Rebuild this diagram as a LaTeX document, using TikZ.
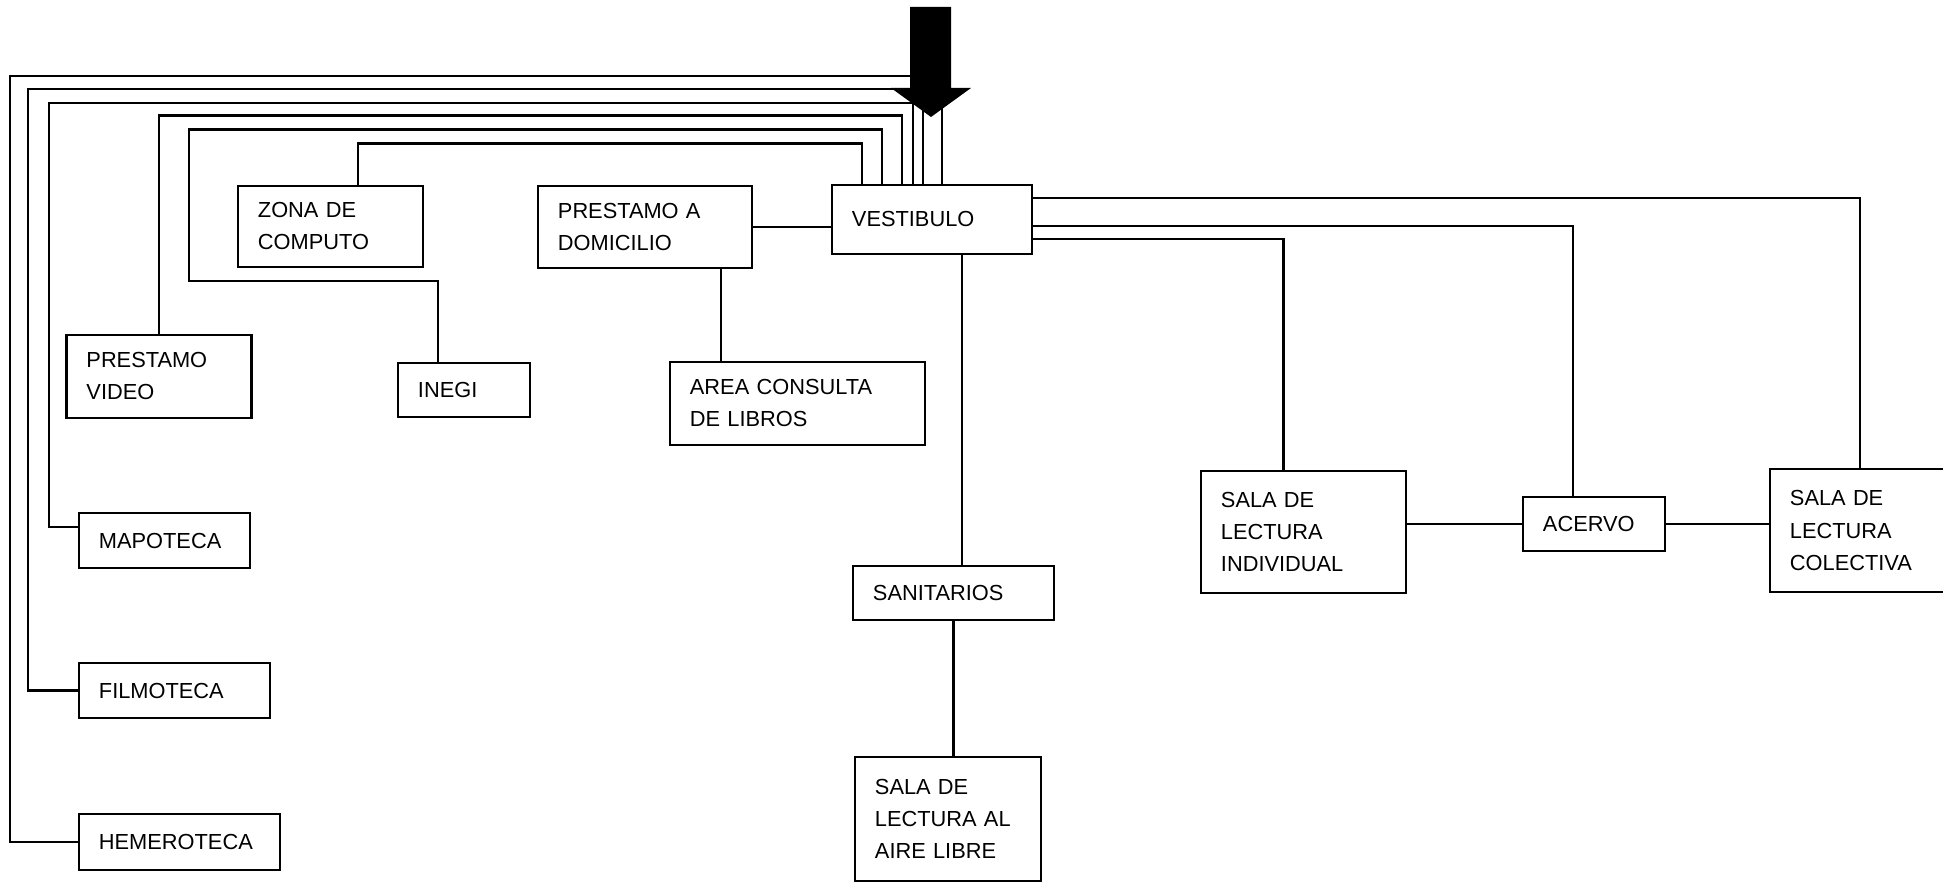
\documentclass[tikz,border=0pt]{standalone}
\usepackage{fontspec}
\setmainfont{Liberation Sans}
\usepackage{tikz}

\tikzset{
  room/.style={draw, line width=0.8pt, align=left, inner xsep=0.2cm, inner ysep=0pt,
    font=\fontsize{6.2}{9.1}\selectfont},
  link/.style={line width=0.8pt}
}

\begin{document}
\begin{tikzpicture}[x=0.01cm, y=-0.01cm]
  \useasboundingbox (0,0) rectangle (1943,883);

  \node[room, text width=1.6cm,  minimum height=0.69cm] (vest)     at (932,219.5) {VESTIBULO};
  \node[room, text width=1.45cm, minimum height=0.81cm] (zona)     at (330.5,226.5) {ZONA DE\\COMPUTO};
  \node[room, text width=1.74cm, minimum height=0.82cm] (domic)    at (645,227) {PRESTAMO A\\DOMICILIO};
  \node[room, text width=1.45cm, minimum height=0.83cm] (video)    at (159,376.5) {PRESTAMO\\VIDEO};
  \node[room, text width=0.92cm, minimum height=0.54cm] (inegi)    at (464,390) {INEGI};
  \node[room, text width=2.15cm, minimum height=0.83cm] (consulta) at (797.5,403.5) {AREA CONSULTA\\DE LIBROS};
  \node[room, text width=1.31cm, minimum height=0.55cm] (mapo)     at (164.5,540.5) {MAPOTECA};
  \node[room, text width=1.51cm, minimum height=0.55cm] (filmo)    at (174.5,690.5) {FILMOTECA};
  \node[room, text width=1.61cm, minimum height=0.56cm] (hemero)   at (179.5,842) {HEMEROTECA};
  \node[room, text width=1.61cm, minimum height=0.54cm] (sanit)    at (953.5,593) {SANITARIOS};
  \node[room, text width=1.46cm, minimum height=1.24cm] (aire)     at (948,819) {SALA DE\\LECTURA AL\\AIRE LIBRE};
  \node[room, text width=1.65cm, minimum height=1.22cm] (indiv)    at (1303.5,532) {SALA DE\\LECTURA\\INDIVIDUAL};
  \node[room, text width=1.02cm, minimum height=0.54cm] (acervo)   at (1594,524) {ACERVO};
  \node[room, text width=1.4cm,  minimum height=1.23cm] (colec)    at (1860,530.5) {SALA DE\\LECTURA\\COLECTIVA};

  \draw[link] (domic.east) -- (domic.east -| vest.west);
  \draw[link] ([xshift=0.76cm]domic.south) -- ([xshift=0.76cm]domic.south |- consulta.north);
  \draw[link] ([xshift=0.3cm]vest.south) -- ([xshift=0.3cm]vest.south |- sanit.north);
  \draw[link] (sanit.south) -- (sanit.south |- aire.north);
  \draw[link] ([yshift=0.215cm]vest.east) -| (colec.north);
  \draw[link] ([yshift=-0.065cm]vest.east) -| ([xshift=-0.21cm]acervo.north);
  \draw[link] ([yshift=-0.195cm]vest.east) -| ([xshift=-0.2cm]indiv.north);
  \draw[link] (acervo.west -| indiv.east) -- (acervo.west);
  \draw[link] (acervo.east) -- (acervo.east -| colec.west);

  \draw[link] ([xshift=-0.7cm]vest.north) -- ++(0,-40) -| ([xshift=0.275cm]zona.north);
  \draw[link] ([xshift=-0.5cm]vest.north) -- ++(0,-54) -| (189,281) -| ([xshift=-0.26cm]inegi.north);
  \draw[link] ([xshift=-0.3cm]vest.north) -- ++(0,-68) -| (video.north);
  \draw[link] ([xshift=-0.19cm]vest.north) |- (49,103) |- ([yshift=0.135cm]mapo.west);
  \foreach \n/\s/\t/\l in {filmo/-0.09cm/89/28, hemero/0.1cm/76/10}
    \draw[link] ([xshift=\s]vest.north) |- (\l,\t) |- (\n.west);

  \fill (910,7) -- (951,7) -- (951,88) -- (971,88) -- (931,117) -- (891,88) -- (910,88) -- cycle;
\end{tikzpicture}
\end{document}
